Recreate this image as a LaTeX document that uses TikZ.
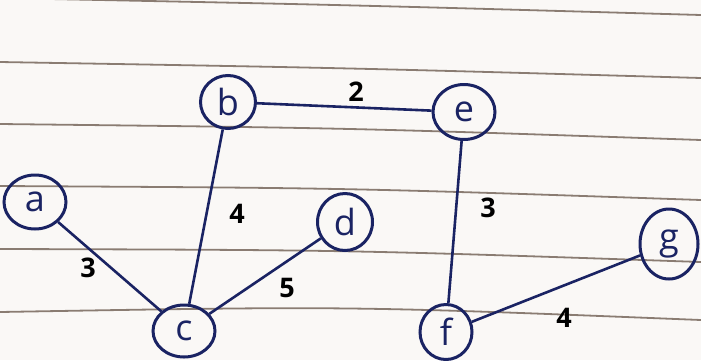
\documentclass[tikz,border=0pt]{standalone}
\usepackage{fontspec}
\setmainfont{Open Sans}
\usetikzlibrary{shapes.geometric}

\definecolor{ink}{HTML}{1A2363}
\definecolor{ruling}{HTML}{8A7C72}
\definecolor{paper}{HTML}{FAF8F6}

\begin{document}
\begin{tikzpicture}[x=1pt, y=-1pt, line width=3pt,
    vertex/.style={draw=ink, ellipse, inner sep=0pt, text=ink, font=\fontsize{36}{38}\selectfont},
    edge/.style={draw=ink, line width=2.6pt},
    weight/.style={text=black, font=\bfseries\fontsize{27}{29}\selectfont},
    rule/.style={draw=ruling, line width=1.8pt}]
  % page
  \fill[paper] (0,0) rectangle (701,360);
  \useasboundingbox (0,0) rectangle (701,360);
  \foreach \l/\c/\r in {-2/5/15, 62/68/78, 124/128/140, 186/188/200, 249/250/262, 312/306/320}
    \draw[rule] (0,\l) .. controls (350,\c) .. (701,\r);

  % vertices
  \node[vertex, minimum width=62, minimum height=54] (a) at (35,202) {a};
  \node[vertex, minimum width=55, minimum height=53] (b) at (228,102) {b};
  \node[vertex, minimum width=62, minimum height=52] (c) at (184,331) {c};
  \node[vertex, minimum width=55, minimum height=57] (d) at (345,222) {d};
  \node[vertex, minimum width=62, minimum height=55] (e) at (464,112) {e};
  \node[vertex, minimum width=52, minimum height=55] (f) at (446,332) {f};
  \node[vertex, minimum width=58, minimum height=70] (g) at (669,244) {g};

  % edges
  \draw[edge] (b) -- (e);
  \draw[edge] (b) -- (c);
  \draw[edge] (a) -- (c);
  \draw[edge] (c) -- (d);
  \draw[edge] (e) -- (f);
  \draw[edge] (f) -- (g);

  % weights
  \node[weight] (wbe) at (356,92) {2};
  \node[weight] (wbc) at (237,214) {4};
  \node[weight] (wac) at (88,268) {3};
  \node[weight] (wcd) at (287,288) {5};
  \node[weight] (wef) at (488,208) {3};
  \node[weight] (wfg) at (564,318) {4};
\end{tikzpicture}
\end{document}
